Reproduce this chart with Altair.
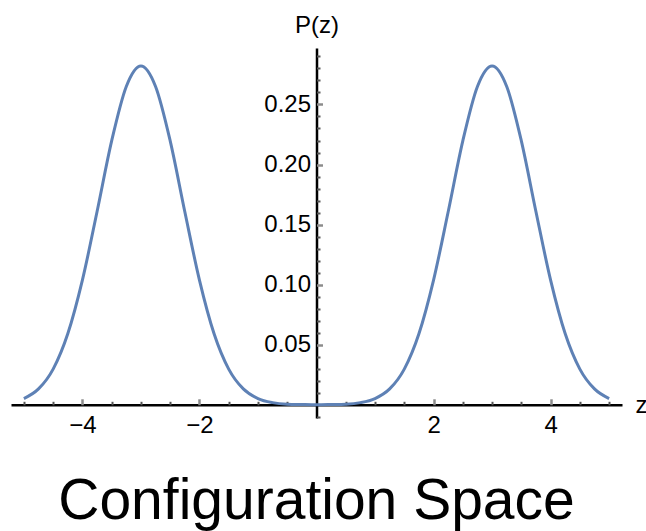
import altair as alt
import pandas as pd

# values
z_vals = [-5.0, -4.75, -4.5, -4.25, -4.0, -3.75, -3.5, -3.25, -3.0, -2.75, -2.5,
          -2.25, -2.0, -1.75, -1.5, -1.25, -1.0, -0.75, -0.5, -0.25, 0.0,
          0.25, 0.5, 0.75, 1.0, 1.25, 1.5, 1.75, 2.0, 2.25, 2.5,
          2.75, 3.0, 3.25, 3.5, 3.75, 4.0, 4.25, 4.5, 4.75, 5.0]
p_vals = [0.0052, 0.0132, 0.0297, 0.0591, 0.1038, 0.1607, 0.2197, 0.2650, 0.2821, 0.2650, 0.2197,
          0.1607, 0.1038, 0.0591, 0.0297, 0.0132, 0.0052, 0.0018, 0.0005, 0.0002, 0.0000,
          0.0002, 0.0005, 0.0018, 0.0052, 0.0132, 0.0297, 0.0591, 0.1038, 0.1607, 0.2197,
          0.2650, 0.2821, 0.2650, 0.2197, 0.1607, 0.1038, 0.0591, 0.0297, 0.0132, 0.0052]

x_major = [-4, -2, 2, 4]
x_minor = [-5, -4.5, -3.5, -3, -2.5, -1.5, -1, -0.5, 0.5, 1, 1.5, 2.5, 3, 3.5, 4.5, 5]
y_major = [0.05, 0.10, 0.15, 0.20, 0.25]
y_minor = [-0.01, 0.01, 0.02, 0.03, 0.04, 0.06, 0.07, 0.08, 0.09, 0.11, 0.12, 0.13, 0.14,
           0.16, 0.17, 0.18, 0.19, 0.21, 0.22, 0.23, 0.24, 0.26, 0.27, 0.28, 0.29]

df = pd.DataFrame({"z": z_vals, "p": p_vals})

W, H = 611, 370
XDOM = [-5.22, 5.22]
YDOM = [-0.011, 0.297]
FONT = "Liberation Sans"

x_off_left = -(0 - XDOM[0]) / (XDOM[1] - XDOM[0]) * W          # y axis at z=0
y_pos = (YDOM[1] - 0) / (YDOM[1] - YDOM[0]) * H                   # x axis at p=0

xs = alt.Scale(domain=XDOM, nice=False, zero=False)
ys = alt.Scale(domain=YDOM, nice=False, zero=False)

line = alt.Chart(df).mark_line(color="#5E81B5", strokeWidth=3, interpolate="monotone").encode(
    x=alt.X("z:Q", scale=xs, axis=alt.Axis(
        orient="bottom", offset=y_pos - H, values=x_major, ticks=False, tickSize=0,
        grid=False, domainColor="black", domainWidth=2.5, labelFont=FONT, labelFontSize=24,
        labelColor="black", labelPadding=9, labelExpr="replace(datum.label, '-', '\u2212')",
        title="z", titleFont=FONT, titleFontSize=24, titleFontWeight="normal",
        titleAngle=0, titleAlign="left", titleBaseline="alphabetic",
        titleX=624, titleY=8)),
    y=alt.Y("p:Q", scale=ys, axis=alt.Axis(
        orient="left", offset=x_off_left, values=y_major, format=".2f", ticks=False, tickSize=0,
        grid=False, domainColor="black", domainWidth=2.5, labelFont=FONT, labelFontSize=24,
        labelColor="black", labelPadding=6,
        title="P(z)", titleFont=FONT, titleFontSize=24, titleFontWeight="normal",
        titleAngle=0, titleAlign="center", titleBaseline="alphabetic",
        titleX=0, titleY=-16)),
)

major = alt.Chart(df).mark_point(opacity=0).encode(
    x=alt.X("z:Q", scale=xs, axis=alt.Axis(
        orient="top", offset=-y_pos, values=x_major, labels=False, domain=False, grid=False,
        tickSize=6, tickWidth=2.5, tickColor="#8c8c8c", title=None)),
    y=alt.Y("p:Q", scale=ys, axis=alt.Axis(
        orient="right", offset=x_off_left, values=y_major, labels=False, domain=False, grid=False,
        tickSize=6, tickWidth=2.5, tickColor="#8c8c8c", title=None)),
)

minor = alt.Chart(df).mark_point(opacity=0).encode(
    x=alt.X("z:Q", scale=xs, axis=alt.Axis(
        orient="top", offset=-y_pos, values=x_minor, labels=False, domain=False, grid=False,
        tickSize=3.5, tickWidth=2, tickColor="#555555", title=None)),
    y=alt.Y("p:Q", scale=ys, axis=alt.Axis(
        orient="right", offset=x_off_left, values=y_minor, labels=False, domain=False, grid=False,
        tickSize=3.5, tickWidth=2, tickColor="#555555", title=None)),
)

chart = alt.layer(line, major, minor).resolve_axis(x="independent", y="independent").properties(
    width=W, height=H,
    background="white",
    autosize=alt.AutoSizeParams(type="none"),
    padding={"left": 11, "top": 48, "right": 24, "bottom": 113},
    title=alt.TitleParams("Configuration Space", orient="bottom", anchor="middle", font=FONT,
                          fontSize=57, fontWeight="normal", color="black", offset=36),
).configure_view(strokeWidth=0, stroke="transparent")

chart.save("out.html", embed_options={"renderer": "svg", "actions": False})
